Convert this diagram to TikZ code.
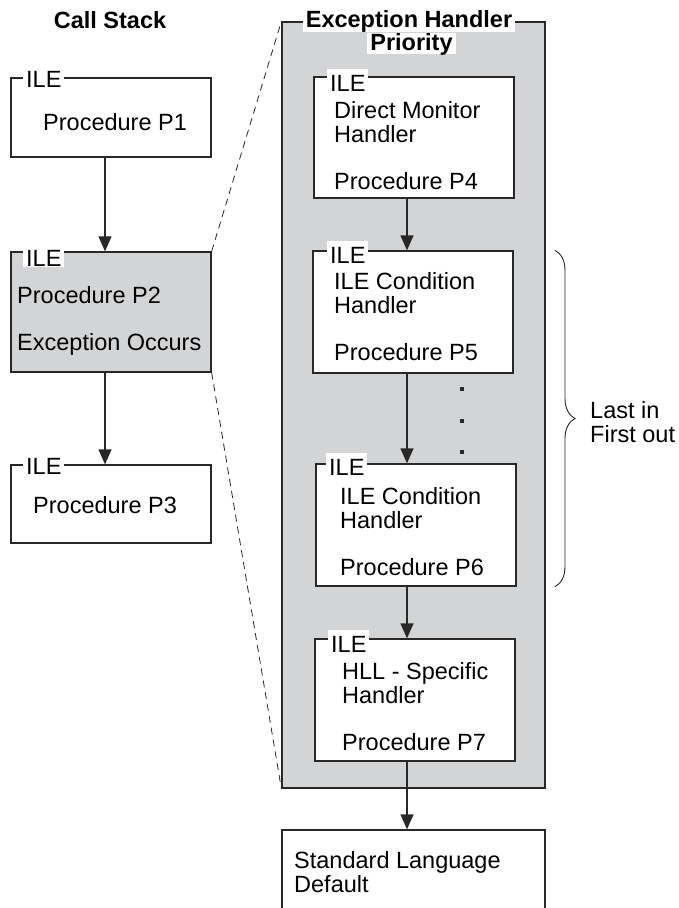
\documentclass[tikz,border=0pt]{standalone}
\usepackage{fontspec}
\setmainfont{Liberation Sans}
\usepackage{tikz}
\usetikzlibrary{arrows.meta,decorations.pathreplacing}
\definecolor{stackgray}{RGB}{211,212,214}
\definecolor{inkgray}{RGB}{40,40,40}
\tikzset{
box/.style = {rectangle, draw=inkgray, line width=1.3pt, fill=white, inner sep=0pt, minimum width = #1},
box/.default = 200pt, % width of a procedure box
ile/.style = {fill=white, inner xsep=3pt, inner ysep=0pt, text height=22pt, text depth=1pt, anchor=base west},
txt/.style = {align=left, anchor=base west, inner sep=0pt}, % base = last line
head/.style = {font=\bfseries\fontsize{23.5pt}{23.5pt}\selectfont, inner xsep=3pt, inner ysep=0pt, text height=17pt, text depth=5pt, anchor=base},
flow/.style = {draw=inkgray, line width=1.3pt, -{Triangle[length=15pt,width=13pt]}},
}

\begin{document}
\begin{tikzpicture}[x=1pt, y=-1pt, font=\fontsize{23.5pt}{23.5pt}\selectfont]
  \useasboundingbox (0,0) rectangle (678,908);
  \clip (0,0) rectangle (678,908);

  % Call stack
    \node[head] (csTitle) at (110,28) {Call Stack};
    \node[box, minimum height=79pt] (p1) at (111,117.5) {};
    \node[box, minimum height=120pt, fill=stackgray] (p2) at (111,312) {};
    \node[box, minimum height=78pt] (p3) at (111,504) {};

  % Handler boxes
    \node[box=263pt, minimum height=766pt, fill=stackgray] (ehp) at (413.5,405) {};
    \node[box, minimum height=121pt] (p4) at (414,137.5) {};
    \node[box, minimum height=122pt] (p5) at (413,312) {};
    \node[box, minimum height=122pt] (p6) at (416,525) {};
    \node[box, minimum height=122pt] (p7) at (415,700) {};
    \node[box=263pt, minimum height=100pt] (std) at (413.5,880) {};

  % Titles
    \node[head, fill=white] (ehTitle) at (409,27) {Exception Handler};
    \node[head, fill=white, text depth=4pt] (ehPrio) at (411.5,50) {Priority};

  % ILE labels
    \node[ile] (p1ile) at (23,87) {ILE};
    \node[ile] (p2ile) at (23,266) {ILE};
    \node[ile] (p3ile) at (23,474) {ILE};
    \node[ile] (p4ile) at (327,91) {ILE};
    \node[ile] (p5ile) at (327,263) {ILE};
    \node[ile] (p6ile) at (326,475) {ILE};
    \node[ile] (p7ile) at (328,652) {ILE};

  % Texts
    \node[txt] (p1txt) at (43,130) {Procedure P1};
    \node[txt] (p2txt) at (17,350) {Procedure P2\\[23.5pt]Exception Occurs};
    \node[txt] (p3txt) at (33,513) {Procedure P3};
    \node[txt] (p4txt) at (334,189) {Direct Monitor\\Handler\\[23.5pt]Procedure P4};
    \node[txt] (p5txt) at (334,360) {ILE Condition\\Handler\\[23.5pt]Procedure P5};
    \node[txt] (p6txt) at (340,575) {ILE Condition\\Handler\\[23.5pt]Procedure P6};
    \node[txt] (p7txt) at (342,750) {HLL - Specific\\Handler\\[23.5pt]Procedure P7};
    \node[txt] (stdtxt) at (294,892) {Standard Language\\Default};
    \node[txt] (lifo) at (590,442) {Last in\\First out};

  % Lines
    \coordinate (csLine) at (105,0);
    \coordinate (ehLine) at (407,0);
    \coordinate (lifoX) at (555,0);
    \draw[flow] (p1.south -| csLine) -- (p2.north -| csLine);
    \draw[flow] (p2.south -| csLine) -- (p3.north -| csLine);
    \draw[flow] (p4.south -| ehLine) -- (p5.north -| ehLine);
    \draw[flow] (p5.south -| ehLine) -- (p6.north -| ehLine);
    \draw[flow] (p6.south -| ehLine) -- (p7.north -| ehLine);
    \draw[flow] (p7.south -| ehLine) -- (std.north -| ehLine);
    \draw[inkgray, line width=0.8pt, dash pattern=on 7pt off 5pt] (p2.north east) -- (ehp.north west);
    \draw[inkgray, line width=0.8pt, dash pattern=on 7pt off 5pt] (p2.south east) -- (ehp.south west);
    \draw[inkgray, line width=0.9pt, decorate, decoration={brace, amplitude=20pt}] (p5.north -| lifoX) -- (p6.south -| lifoX);
    \foreach \y in {389,421,452}
      \fill[inkgray] (460,\y-2) rectangle ++(4,4);
\end{tikzpicture}
\end{document}
